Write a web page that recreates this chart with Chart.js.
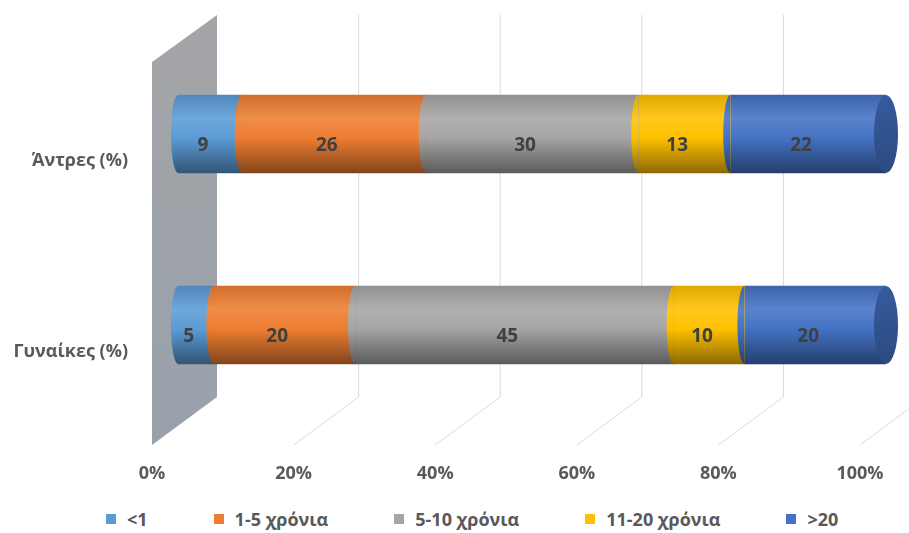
<!DOCTYPE html>
<html>
<head>
<meta charset="utf-8">
<script src="https://cdn.jsdelivr.net/npm/chart.js@4.4.0/dist/chart.umd.min.js"></script>
<style>
  body { margin: 0; background: #fff; }
  #wrap { position: relative; width: 909px; height: 533px; }
  #box { position: absolute; left: 0; top: 0; width: 909px; height: 500px; }
  #legend { position: absolute; left: 106px; top: 507px; display: flex; gap: 66px;
            font: bold 18px "Open Sans", sans-serif; color: #595959; white-space: nowrap; }
  #legend .item { display: flex; align-items: center; }
  #legend .sw { display: inline-block; width: 10px; height: 10px; margin-right: 11px; }
</style>
</head>
<body>
<div id="wrap">
  <div id="box"><canvas id="chart"></canvas></div>
  <div id="legend"></div>
</div>
<script>
// data
const categories = ["Άντρες (%)", "Γυναίκες (%)"];
const seriesNames = ["<1", "1-5 χρόνια", "5-10 χρόνια", "11-20 χρόνια", ">20"];
const under1 = [9, 5];
const years1to5 = [26, 20];
const years5to10 = [30, 45];
const years11to20 = [13, 10];
const over20 = [22, 20];
const tickValues = [0, 20, 40, 60, 80, 100];

const seriesValues = [under1, years1to5, years5to10, years11to20, over20];
const colors = ["#5b9bd5", "#ed7d31", "#a5a5a5", "#ffc000", "#4472c4"];
const FONT = "'Open Sans', sans-serif";

function shade(hex, p) {
  const n = parseInt(hex.slice(1), 16);
  const f = c => Math.round(p < 0 ? c * (1 + p) : c + (255 - c) * p);
  return `rgb(${f(n >> 16)},${f((n >> 8) & 255)},${f(n & 255)})`;
}

// vertical gradient so the flat bars read like cylinders
function cylFill(ctx, hex, yc, h) {
  if (!isFinite(yc) || !isFinite(h)) return hex;
  const g = ctx.createLinearGradient(0, yc - h, 0, yc + h);
  g.addColorStop(0, shade(hex, -0.12));
  g.addColorStop(0.3, shade(hex, 0.12));
  g.addColorStop(0.55, hex);
  g.addColorStop(1, shade(hex, -0.45));
  return g;
}

const HALF = 39;

const cylinder3d = {
  id: "cylinder3d",
  beforeDatasetsDraw(chart) {
    const ctx = chart.ctx, x = chart.scales.x;
    const x0 = x.getPixelForValue(0);
    ctx.save();
    ctx.strokeStyle = "#d9d9d9";
    ctx.lineWidth = 1;
    x.ticks.forEach(t => {
      if (t.value === 0) return;
      const p = x.getPixelForValue(t.value);
      ctx.beginPath();
      ctx.moveTo(p + 39, 15);
      ctx.lineTo(p + 39, 397);
      ctx.lineTo(p - 26, 445);
      ctx.stroke();
    });
    // side wall at 0%
    const g = ctx.createLinearGradient(0, 15, 0, 445);
    g.addColorStop(0, "#a4a5a7");
    g.addColorStop(1, "#98a1ab");
    ctx.fillStyle = g;
    ctx.beginPath();
    ctx.moveTo(x0 - 26, 62);
    ctx.lineTo(x0 + 39, 15);
    ctx.lineTo(x0 + 39, 397);
    ctx.lineTo(x0 - 26, 445);
    ctx.closePath();
    ctx.fill();
    ctx.restore();
  },
  afterDatasetsDraw(chart) {
    const ctx = chart.ctx;
    const n = chart.data.datasets.length;
    ctx.save();
    // left caps of each segment
    for (let di = 0; di < n; di++) {
      chart.getDatasetMeta(di).data.forEach(el => {
        const p = el.getProps(["x", "y", "base", "height"], true);
        const h = p.height / 2;
        ctx.fillStyle = cylFill(ctx, colors[di], p.y, h);
        ctx.beginPath();
        ctx.ellipse(p.base, p.y, 7, h, 0, Math.PI / 2, Math.PI * 1.5);
        ctx.fill();
      });
    }
    // right end face
    chart.getDatasetMeta(n - 1).data.forEach(el => {
      const p = el.getProps(["x", "y", "height"], true);
      const h = p.height / 2;
      const g = ctx.createLinearGradient(0, p.y - h, 0, p.y + h);
      g.addColorStop(0, shade(colors[n - 1], -0.2));
      g.addColorStop(1, shade(colors[n - 1], -0.35));
      ctx.fillStyle = g;
      ctx.beginPath();
      ctx.ellipse(p.x, p.y, 12, h, 0, 0, Math.PI * 2);
      ctx.fill();
    });
    // value labels
    ctx.font = "bold 19px " + FONT;
    ctx.fillStyle = "#404040";
    ctx.textAlign = "center";
    ctx.textBaseline = "middle";
    for (let di = 0; di < n; di++) {
      const meta = chart.getDatasetMeta(di);
      meta.data.forEach((el, j) => {
        const p = el.getProps(["x", "y", "base"], true);
        ctx.fillText(chart.data.datasets[di].data[j], (p.base + p.x) / 2 - 7, p.y + 12);
      });
    }
    ctx.restore();
  }
};

const datasets = seriesNames.map((name, i) => ({
  label: name,
  data: seriesValues[i],
  backgroundColor: c => {
    if (c.type !== "data" || !c.chart.scales.y) return colors[i];
    const y = c.chart.scales.y.getPixelForValue(c.dataIndex);
    return cylFill(c.chart.ctx, colors[i], y, HALF);
  },
  borderWidth: 0,
  barThickness: HALF * 2
}));

new Chart(document.getElementById("chart"), {
  type: "bar",
  data: { labels: categories, datasets: datasets },
  options: {
    indexAxis: "y",
    responsive: true,
    maintainAspectRatio: false,
    animation: false,
    layout: { padding: { top: 38.5, right: 23, left: 0, bottom: 0 } },
    plugins: { legend: { display: false }, tooltip: { enabled: false } },
    scales: {
      x: {
        stacked: true, min: 0, max: 100,
        afterBuildTicks: s => { s.ticks = tickValues.map(v => ({ value: v })); },
        ticks: {
          callback: v => v + "%",
          labelOffset: -26, padding: 43, color: "#595959",
          font: { family: FONT, size: 18, weight: "bold" }
        },
        grid: { display: false, drawTicks: false },
        border: { display: false },
        afterFit: s => { s.height = 79.5; s.paddingLeft = 0; s.paddingRight = 0; }
      },
      y: {
        stacked: true,
        ticks: {
          labelOffset: 27, padding: 50, color: "#595959",
          font: { family: FONT, size: 18, weight: "bold" }
        },
        grid: { display: false, drawTicks: false },
        border: { display: false },
        afterFit: s => { s.width = 178; s.paddingTop = 0; s.paddingBottom = 0; }
      }
    }
  },
  plugins: [cylinder3d]
});

// legend
const legend = document.getElementById("legend");
seriesNames.forEach((name, i) => {
  const item = document.createElement("div");
  item.className = "item";
  item.innerHTML = `<span class="sw" style="background:${colors[i]}"></span>`;
  item.appendChild(document.createTextNode(name));
  legend.appendChild(item);
});
</script>
</body>
</html>
